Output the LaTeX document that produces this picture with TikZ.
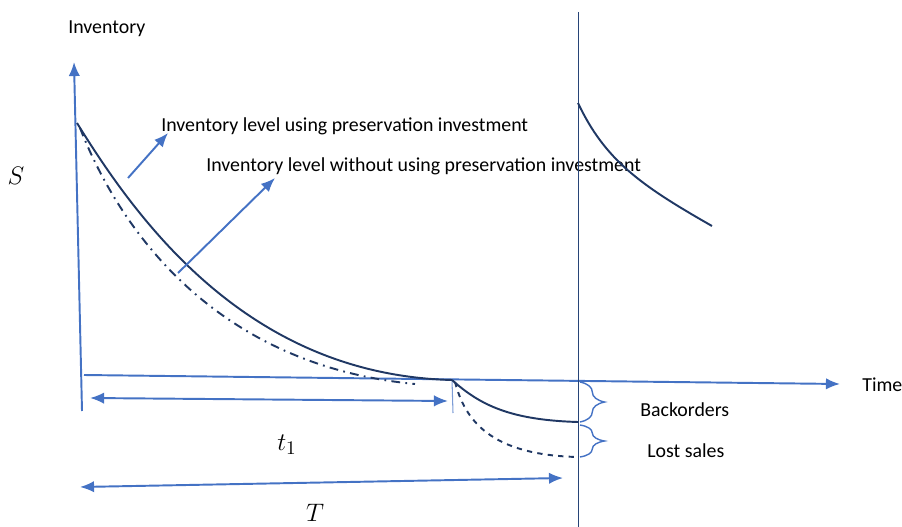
\documentclass[tikz,border=0pt]{standalone}
\usepackage{fontspec}
\setmainfont{Carlito}
\usetikzlibrary{arrows.meta,decorations.pathreplacing}
\definecolor{axblue}{RGB}{68,114,196}
\definecolor{navy}{RGB}{32,56,100}

\begin{document}
\begin{tikzpicture}[>={Latex[length=8pt,width=6.5pt]}, x={(0.02cm,0cm)}, y={(0cm,-0.02cm)},
  ax/.style={axblue, line width=1.1pt},
  lvl/.style={navy, line width=1.1pt},
  lbl/.style={font=\fontsize{11.3}{13}\selectfont, inner sep=0pt, anchor=west},
  mathlbl/.style={font=\fontsize{15}{18}\selectfont, inner sep=0pt},
  brc/.style={axblue, line width=0.8pt, decorate, decoration={brace, amplitude=14pt}}]
\useasboundingbox (0,0) rectangle (902,527);
\coordinate (ybot) at (82,411);
\coordinate (ytop) at (74,62);
\coordinate (xleft) at (84,375);
\coordinate (xright) at (840,384);
\coordinate (s0) at (77,123);
\coordinate (s1) at (80,128);
\coordinate (zero) at (452,380);
\coordinate (dd) at (415,384);
\coordinate (back) at (578,422);
\coordinate (lost) at (578,457);
\node[lbl] (invlab) at (68,29) {Inventory};
\node[lbl] (timelab) at (862,385) {Time};
\node[mathlbl] (slab) at (16,176) {$S$};
\node[lbl] (usinglab) at (161,126) {Inventory level using preservation investment};
\node[lbl] (withoutlab) at (206,166) {Inventory level without using preservation investment};
\node[lbl] (backlab) at (640,410) {Backorders};
\node[lbl] (lostlab) at (647,451) {Lost sales};
\node[mathlbl] (t1lab) at (287,445) {$t_1$};
\node[mathlbl] (tlab) at (315,513) {$T$};
% axes
\draw[ax,->] (ybot) -- (ytop);
\draw[ax,->] (xleft) -- (xright);
\draw[navy!80!axblue, line width=0.4pt] (578,12) -- (578,527);
\draw[axblue!70, line width=0.6pt] (zero) -- (453,413);
% inventory levels
\draw[lvl] (s0) .. controls (140,225) and (250,375) .. (zero);
\draw[lvl, dash pattern=on 5pt off 3pt on 1pt off 3pt] (s1) .. controls (120,230) and (215,365) .. (dd);
\draw[lvl] (zero) .. controls (480,405) and (510,420) .. (back);
\draw[lvl, dashed] (455,382) .. controls (465,420) and (490,455) .. (lost);
\draw[lvl] (578,103) .. controls (605,160) and (640,185) .. (712,226);
% braces
\draw[brc] (580,382) -- (580,422);
\draw[brc] (580,425) -- (580,457);
% pointers
\coordinate (p1) at (128,178);
\coordinate (p2) at (178,273);
\draw[ax,->] (p1) -- (168,133);
\draw[ax,->] (p2) -- (275,178);
% lengths
\draw[ax,<->] (90,398) -- (448,401);
\draw[ax,<->] (80,487) -- (563,478);
\end{tikzpicture}
\end{document}
